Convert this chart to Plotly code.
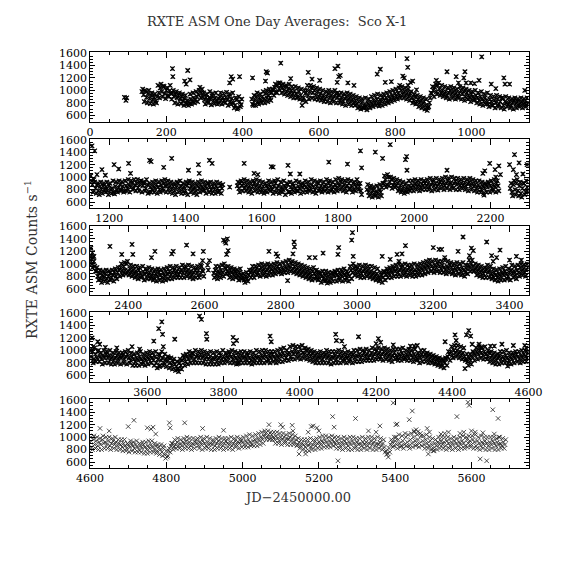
import plotly.graph_objects as go

# ---------------- DATA ----------------
# Band values: one value every 4 days from pN_start (a) and from pN_start+2 (b); None = no data
p1_start = 136
p1_vals = [980, 930, 1000, 890, 950, 870, 920, 850, 890, 830,
           900, 960, 1040, 980, 1070, 950, 1000, 920, 990, 950,
           960, 900, 940, 880, 920, 860, 900, 830, 870, 800,
           840, 790, 860, 820, 880, 850, 900, 940, 1050, 960,
           900, 850, 890, 830, 880, 860, 910, 840, 880, 820,
           870, 900, 840, 880, 830, 890, 850, 900, 820, 870,
           800, 760, 850, 720, 820, 770, None, None, None, None,
           None, None, 860, 760, 840, 900, 820, 880, 840, 900,
           860, 950, 880, 920, 880, 960, 1000, 1050, 980, 1080,
           1020, 1080, 1040, 1000, 1060, 980, 1030, 960, 1000, 940,
           990, 950, 900, 980, 920, 760, 880, 950, 1000, 920,
           980, 1040, 960, 1000, 920, 980, 900, 950, 880, 920,
           860, 900, 950, 880, 920, 860, 900, 950, 880, 920,
           850, 890, 830, 870, 900, 840, 880, 820, 860, 800,
           840, 780, 820, 740, 800, 720, 780, 740, 800, 760,
           820, 780, 840, 800, 860, 790, 850, 820, 880, 840,
           880, 830, 900, 860, 920, 880, 950, 900, 960, 920,
           1000, 940, 980, 920, 960, 900, 950, 880, 840, 900,
           820, 860, 800, 840, 780, 820, 760, 680, 740, 880,
           950, 1000, 1050, 980, 1080, 1020, 960, 1000, 940, 980,
           920, 960, 1000, 940, 980, 920, 960, 900, 950, 1000,
           940, 980, 900, 960, 920, 880, 940, 900, 860, 920,
           880, 840, 900, 860, 820, 880, 840, 780, 860, 820,
           760, 840, 800, 860, 780, 820, 880, 760, 820, 800,
           780, 820, 760, 800, 840, 780, 820, 760, 800, 820,
           780, 800, 760, 800]
p1_vals_b = [1020, 820, 980, 800, 1000, 790, 960, 780, 940, 800,
             1080, 880, 1100, 900, 1060, 870, 1040, 900, 1080, 860,
             1000, 800, 980, 780, 960, 790, 940, 760, 920, 780,
             760, 940, 780, 960, 800, 980, 820, 1000, 880, 1020,
             960, 780, 940, 800, 980, 770, 950, 790, 960, 780,
             800, 960, 780, 950, 800, 970, 760, 940, 780, 960,
             720, 880, 700, 900, 740, 860, None, None, None, None,
             None, None, 780, 920, 760, 960, 780, 940, 800, 980,
             800, 1000, 820, 980, 840, 1020, 920, 1100, 960, 1120,
             1120, 960, 1100, 940, 1080, 920, 1100, 900, 1060, 880,
             1060, 880, 1040, 860, 1020, 840, 1000, 820, 1080, 860,
             1080, 880, 1060, 860, 1040, 850, 1020, 840, 1000, 820,
             980, 820, 1000, 800, 980, 820, 1000, 800, 960, 800,
             960, 780, 940, 760, 960, 780, 940, 760, 920, 760,
             900, 720, 880, 700, 860, 720, 880, 690, 860, 720,
             900, 740, 920, 760, 940, 750, 920, 760, 940, 780,
             960, 800, 980, 820, 1000, 840, 1020, 860, 1040, 880,
             1060, 880, 1040, 860, 1020, 840, 980, 800, 940, 780,
             920, 740, 900, 720, 880, 700, 860, 720, 800, 960,
             1060, 900, 1100, 940, 1120, 920, 1080, 900, 1060, 880,
             1040, 860, 1060, 880, 1040, 860, 1020, 880, 1060, 860,
             1040, 840, 1020, 860, 1000, 820, 980, 840, 1000, 800,
             960, 780, 980, 760, 940, 780, 960, 740, 920, 760,
             900, 720, 920, 740, 900, 720, 880, 700, 900, 740,
             880, 720, 860, 700, 880, 720, 860, 740, 880, 720,
             860, 740, 880]
p1_out_days = [90, 94, 96, 216, 217, 248, 252, 256, 262, 366, 370, 374, 392, 426,
               460, 462, 465, 470, 500, 526, 572, 582, 602, 642, 650, 652, 656, 648,
               676, 692, 753, 761, 774, 790, 812, 820, 824, 831, 833, 840, 846, 834,
               856, 908, 936, 960, 980, 983, 966, 986, 998, 1008, 1020, 1027, 1052,
               1064, 1085, 1088, 1100, 1140]
p1_out_vals = [890, 840, 880, 1350, 1220, 1150, 1100, 1320, 1170, 1120, 1220, 1180, 1220, 1200,
               1150, 1300, 1280, 1020, 1440, 1190, 1290, 1180, 1160, 1350, 1390, 1220, 1240, 1130,
               1120, 1080, 1260, 1340, 1130, 1140, 1080, 1230, 1200, 1510, 1370, 1130, 1150, 1080,
               1010, 1160, 1300, 1220, 1200, 1300, 1120, 1120, 1120, 1110, 1160, 1540, 1100,
               1030, 1200, 1100, 1100, 1000]

p2_start = 1152
p2_vals = [1020, 880, 960, 820, 870, 780, 850, 800, 860, 790,
           840, 780, 860, 800, 820, 760, 850, 790, 830, 880,
           800, 850, 780, 860, 820, 880, 840, 900, 820, 870,
           900, 830, 880, 940, 860, 900, 820, 880, 760, 840,
           800, 860, 820, 880, 840, 800, 870, 820, 900, 850,
           880, 820, 860, 800, 850, 780, 840, 900, 820, 860,
           800, 840, 780, 860, 900, 820, 860, 800, 840, 780,
           860, 820, 880, 840, 800, 860, 820, 900, 840, 790,
           850, 800, 860, 820, 780, 860, 820, None, None, None,
           None, 840, None, None, None, None, 860, 820, 900, 860,
           900, 830, 880, 820, 860, 800, 850, 900, 840, 880,
           820, 860, 800, 850, 780, 860, 820, 880, 840, 800,
           850, 900, 820, 860, 780, 840, 800, 860, 820, 880,
           760, 840, 800, 860, 820, 780, 850, 810, 870, 830,
           880, 840, 800, 860, 820, 880, 840, 790, 850, 900,
           820, 860, 800, 850, 880, 820, 900, 860, 800, 840,
           880, 830, 900, 860, 920, 840, 880, 820, 860, 900,
           820, 860, 800, 880, 840, 900, 850, 780, None, None,
           None, 800, 760, 820, 740, 790, 720, 770, 740, 800,
           760, 830, 900, 960, 880, 1000, 920, 960, 870, 920,
           860, 900, 820, 870, 800, 850, 780, 840, 800, 860,
           820, 870, 840, 900, 850, 880, 830, 890, 860, 900,
           860, 900, 840, 880, 920, 860, 900, 850, 890, 920,
           880, 920, 860, 900, 940, 880, 910, 860, 900, 930,
           880, 920, 860, 900, 870, 910, 850, 890, 920, 860,
           900, 850, 880, 820, 870, 840, 800, 860, 820, 880,
           840, 900, 860, 820, 880, 840, 900, 860, None, None,
           None, None, None, None, None, 820, 760, 880, 800, 900,
           780, 860, 740, 820, 900, 760, 840]
p2_vals_b = [940, 760, 920, 740, 900, 720, 920, 740, 900, 760,
             920, 720, 900, 740, 940, 730, 920, 760, 940, 780,
             920, 760, 940, 780, 960, 760, 940, 800, 960, 780,
             960, 780, 940, 760, 920, 780, 960, 740, 900, 760,
             920, 760, 940, 740, 920, 760, 940, 780, 960, 760,
             940, 760, 920, 740, 900, 720, 920, 760, 940, 740,
             900, 740, 920, 720, 940, 760, 920, 740, 900, 720,
             920, 760, 940, 780, 920, 740, 900, 760, 920, 740,
             900, 740, 920, 760, 900, 740, 880, None, None, None,
             None, None, None, None, None, None, 920, 760, 940, 780,
             960, 780, 940, 760, 920, 740, 940, 780, 960, 760,
             940, 760, 920, 740, 900, 760, 940, 780, 920, 740,
             940, 760, 960, 740, 920, 760, 940, 720, 900, 760,
             920, 740, 900, 760, 940, 780, 920, 740, 900, 760,
             940, 760, 920, 780, 960, 760, 940, 740, 920, 780,
             940, 760, 920, 780, 960, 760, 940, 780, 920, 760,
             960, 780, 980, 800, 960, 780, 940, 760, 960, 800,
             940, 760, 920, 780, 960, 800, 900, 720, None, None,
             None, 880, 700, 860, 680, 840, 700, 860, 680, 880,
             700, 900, 1020, 840, 1040, 860, 1000, 820, 980, 840,
             960, 780, 940, 760, 920, 740, 900, 760, 940, 780,
             940, 780, 960, 800, 940, 780, 960, 800, 940, 800,
             960, 800, 980, 780, 960, 800, 980, 790, 960, 820,
             980, 800, 1000, 820, 980, 800, 1000, 820, 980, 800,
             980, 800, 960, 820, 980, 800, 960, 780, 980, 800,
             960, 780, 940, 760, 940, 760, 920, 740, 900, 760,
             920, 760, 940, 780, 960, 760, 940, 780, None, None,
             None, None, None, None, None, 900, 700, 940, 720, 960,
             700, 920, 680, 900, 720, 940, 760]
p2_out_days = [1155, 1162, 1168, 1181, 1190, 1213, 1225, 1251, 1256, 1306, 1310, 1343, 1364,
               1408, 1434, 1436, 1463, 1470, 1554, 1580, 1590, 1625, 1630, 1669, 1675, 1700,
               1776, 1825, 1859, 1862, 1898, 1917, 1937, 1977, 1980, 1981, 2086, 2180, 2185,
               2198, 2212, 2214, 2183, 2222, 2226, 2250, 2263, 2260, 2268, 2275, 2285, 2296]
p2_out_vals = [1500, 1420, 1040, 1120, 1030, 1200, 1130, 1220, 1060, 1270, 1250, 1155, 1300,
               1110, 1200, 1060, 1270, 1220, 1220, 1060, 1040, 1170, 1160, 1190, 1050, 1050,
               1240, 1210, 1420, 1150, 1400, 1300, 1520, 1280, 1330, 1110, 1110, 1060, 1100,
               1220, 1120, 1000, 710, 1180, 1040, 1200, 1360, 1120, 1040, 1230, 1050, 1200]

p3_start = 2300
p3_vals = [1060, 1000, 1100, 960, 880, 800, 850, 760, 820, 780,
           840, 760, 800, 850, 780, 820, 870, 800, 860, 900,
           940, 880, 960, 900, 1000, 880, 920, 860, 900, 840,
           880, 820, 900, 850, 800, 870, 830, 880, 820, 860,
           800, 850, 780, 840, 800, 870, 820, 780, 850, 800,
           870, 830, 880, 820, 860, 900, 840, 880, 820, 870,
           900, 850, 920, 860, 900, 840, 880, 820, 860, 900,
           850, 900, 830, 960, 880, None, None, 980, None, None,
           None, 850, 900, 820, 880, 840, 900, 860, 1000, 920,
           880, 840, 900, 860, 820, 880, 840, 800, 860, 820,
           780, 740, 800, 760, 820, 860, 900, 840, 880, 920,
           860, 900, 940, 880, 920, 860, 900, 950, 880, 920,
           880, 940, 900, 960, 920, 880, 940, 900, 960, 920,
           980, 940, 1000, 920, 960, 900, 940, 880, 920, 860,
           900, 840, 880, 820, 860, 800, 880, 840, 800, 860,
           780, 840, 800, 760, 820, 740, 800, 720, 780, 840,
           800, 860, 820, 780, 840, 800, 860, 820, 780, 840,
           800, 900, 860, 940, 880, 920, 860, 900, 840, 880,
           920, 860, 900, 840, 880, 820, 860, 800, 840, 780,
           760, 820, 780, 860, 820, 880, 840, 900, 860, 920,
           880, 920, 860, 900, 940, 880, 920, 860, 900, 940,
           880, 920, 860, 900, 860, 920, 880, 940, 900, 960,
           920, 980, 940, 1000, 960, 920, 980, 940, 1000, 960,
           920, 980, 940, 900, 960, 920, 980, 940, 880, 940,
           900, 960, 920, 880, 940, 900, 860, 920, 980, 940,
           1000, 960, 900, 940, 880, 920, 860, 900, 840, 880,
           920, 860, 900, 840, 800, 860, 820, 780, 840, 800,
           860, 820, 880, 840, 800, 860, 900, 840, 880, 820,
           900, 860, 940, 880, 920, 860, 900, 940]
p3_vals_b = [1120, 940, 1040, 880, 940, 740, 900, 700, 880, 720,
             900, 700, 880, 740, 900, 720, 920, 760, 940, 800,
             1000, 820, 1020, 840, 1040, 820, 980, 800, 960, 780,
             960, 760, 940, 780, 960, 740, 920, 760, 940, 760,
             920, 740, 900, 720, 920, 740, 900, 720, 920, 740,
             940, 760, 960, 760, 940, 780, 960, 780, 940, 780,
             980, 780, 960, 800, 980, 780, 960, 760, 940, 780,
             960, 780, 980, 900, 800, None, None, 900, None, None,
             None, 780, 960, 760, 960, 780, 980, 800, 940, 840,
             960, 780, 940, 760, 920, 780, 900, 740, 920, 760,
             840, 700, 860, 720, 900, 780, 960, 780, 960, 820,
             980, 800, 1000, 820, 980, 800, 1000, 820, 980, 820,
             1000, 840, 1020, 860, 1000, 840, 1020, 860, 1040, 860,
             1060, 880, 1040, 860, 1020, 840, 1000, 820, 980, 800,
             960, 780, 940, 760, 920, 740, 940, 760, 900, 740,
             860, 700, 880, 720, 880, 690, 860, 700, 860, 720,
             880, 720, 900, 740, 900, 720, 920, 740, 880, 720,
             960, 760, 1000, 820, 960, 800, 980, 780, 960, 780,
             980, 800, 960, 780, 960, 760, 940, 740, 920, 720,
             860, 700, 880, 740, 920, 780, 940, 780, 960, 800,
             980, 800, 1000, 800, 980, 820, 1000, 800, 980, 820,
             980, 800, 1000, 800, 980, 820, 1000, 820, 1020, 840,
             1040, 860, 1060, 880, 1040, 860, 1060, 880, 1040, 860,
             1040, 860, 1060, 840, 1040, 860, 1020, 840, 1000, 820,
             1020, 840, 1000, 820, 1020, 800, 980, 840, 1060, 880,
             1060, 880, 1000, 820, 980, 800, 960, 780, 940, 780,
             980, 780, 960, 760, 920, 740, 900, 720, 920, 740,
             940, 740, 960, 760, 920, 740, 980, 780, 960, 760,
             980, 800, 1000, 820, 980, 800, 1000]
p3_out_days = [2302, 2306, 2310, 2352, 2383, 2410, 2412, 2461, 2470, 2514, 2518, 2553, 2570,
               2597, 2595, 2613, 2650, 2654, 2656, 2660, 2662, 2658, 2769, 2788, 2792, 2818,
               2832, 2835, 2836, 2875, 2890, 2911, 2950, 2952, 2988, 2986, 2990, 3066, 3087,
               3105, 3118, 3127, 3110, 3200, 3215, 3222, 3230, 3265, 3278, 3295, 3300, 3305,
               3340, 3353, 3357, 3366, 3375, 3400, 3418, 3431]
p3_out_vals = [1250, 1180, 1120, 1280, 1150, 1310, 1150, 1100, 1200, 1160, 1200, 1300, 1160,
               1200, 1050, 1050, 1380, 1360, 1330, 1400, 1210, 1150, 1200, 1160, 1120, 730,
               1160, 1350, 1270, 1100, 1100, 1170, 1150, 1260, 1500, 1380, 1120, 1120, 1070,
               1150, 1160, 1290, 1040, 1260, 1230, 1230, 1100, 1200, 1430, 1130, 1250, 1210,
               1350, 1130, 1040, 1100, 1220, 1060, 1120, 1060]

p4_start = 3452
p4_vals = [900, 980, 860, 940, 880, 1000, 900, 860, 920, 880,
           940, 880, 920, 860, 900, 840, 880, 920, 860, 900,
           880, 920, 860, 900, 940, 880, 840, 900, 860, 820,
           880, 840, 900, 860, 820, 880, 840, 900, 860, 920,
           880, 840, 900, 800, 860, 920, 840, 880, 800, 860,
           820, 880, 800, 760, 820, 780, 740, 700, 800, 760,
           840, 880, 820, 900, 860, 920, 880, 940, 860, 900,
           920, 880, 940, 880, 920, 860, 900, 860, 900, 840,
           880, 860, 900, 840, 880, 920, 860, 900, 860, 920,
           880, 940, 900, 860, 920, 880, 840, 900, 860, 920,
           880, 900, 860, 920, 880, 840, 900, 860, 920, 880,
           900, 860, 920, 880, 940, 900, 860, 920, 880, 940,
           900, 860, 920, 880, 940, 900, 960, 920, 880, 940,
           960, 900, 980, 940, 1000, 940, 980, 920, 1000, 960,
           940, 1000, 920, 960, 900, 950, 880, 920, 860, 900,
           880, 920, 860, 900, 940, 880, 920, 860, 900, 880,
           920, 860, 900, 940, 880, 920, 860, 900, 880, 920,
           860, 900, 940, 880, 920, 900, 940, 880, 920, 960,
           900, 940, 880, 920, 960, 900, 940, 980, 920, 960,
           900, 940, 980, 920, 960, 900, 940, 880, 920, 960,
           920, 880, 940, 900, 960, 920, 880, 940, 900, 960,
           920, 880, 940, 900, 860, 920, 880, 940, 900, 940,
           880, 920, 860, 900, 840, 880, 820, 860, 800, 840,
           780, 840, 800, 860, 900, 940, 980, 920, 1000, 960,
           1000, 940, 980, 920, 960, 900, 860, 820, 880, 840,
           900, 960, 920, 980, 940, 1000, 960, 920, 980, 940,
           900, 960, 880, 920, 860, 900, 840, 880, 920, 860,
           900, 860, 920, 880, 840, 900, 860, 920, 880, 940,
           900, 860, 920, 880, 940, 900, 880]
p4_vals_b = [1000, 800, 1040, 820, 980, 820, 960, 780, 1000, 800,
             980, 800, 1000, 780, 960, 780, 980, 800, 960, 780,
             960, 800, 980, 780, 1000, 800, 960, 760, 940, 760,
             960, 760, 980, 780, 940, 760, 960, 780, 980, 800,
             960, 760, 980, 720, 940, 760, 980, 760, 940, 740,
             900, 720, 880, 700, 860, 680, 820, 660, 860, 700,
             920, 760, 940, 780, 980, 800, 960, 800, 1000, 800,
             980, 800, 1000, 800, 980, 780, 960, 780, 980, 780,
             960, 780, 980, 780, 960, 800, 1000, 800, 960, 820,
             980, 800, 1000, 800, 980, 780, 960, 800, 980, 800,
             980, 800, 960, 800, 980, 780, 960, 800, 1000, 800,
             980, 800, 1000, 800, 1000, 820, 980, 800, 980, 820,
             980, 800, 1000, 820, 1020, 820, 1040, 840, 1000, 840,
             1060, 860, 1080, 860, 1060, 880, 1060, 860, 1080, 880,
             1040, 860, 1020, 840, 1000, 820, 980, 800, 960, 800,
             980, 800, 960, 800, 1000, 800, 980, 780, 980, 800,
             980, 800, 1000, 800, 980, 820, 960, 800, 980, 820,
             960, 800, 1000, 820, 1000, 820, 1020, 820, 1000, 840,
             1020, 840, 1000, 840, 1040, 840, 1020, 860, 1040, 860,
             1020, 840, 1040, 860, 1020, 840, 1000, 820, 1020, 860,
             1020, 840, 1020, 840, 1040, 860, 1000, 840, 1020, 840,
             1000, 820, 1020, 840, 960, 800, 1000, 820, 1000, 820,
             960, 800, 940, 800, 920, 780, 900, 760, 880, 740,
             860, 720, 880, 760, 980, 840, 1060, 880, 1080, 900,
             1080, 880, 1060, 860, 1040, 840, 940, 760, 940, 780,
             980, 840, 1040, 860, 1060, 880, 1040, 860, 1060, 860,
             1000, 820, 980, 800, 960, 780, 940, 780, 980, 800,
             980, 800, 1000, 800, 960, 780, 960, 800, 980, 820,
             980, 800, 1000, 820, 1000, 820, 960]
p4_out_days = [3455, 3458, 3470, 3475, 3490, 3520, 3560, 3580, 3617, 3630, 3638, 3640, 3642,
               3632, 3672, 3682, 3737, 3742, 3755, 3756, 3825, 3826, 3834, 3838, 3922, 3925,
               4094, 4096, 4110, 4117, 4154, 4206, 4200, 4212, 4245, 4290, 4300, 4308, 4381,
               4407, 4410, 4437, 4443, 4448, 4433, 4452, 4470, 4475, 4500, 4510, 4530, 4545,
               4560, 4590, 4594]
p4_out_vals = [1200, 1060, 1140, 1100, 1050, 1040, 1060, 1020, 1150, 1350, 1460, 1260, 1060,
               740, 1180, 710, 1550, 1500, 1270, 1180, 1210, 1110, 1160, 790, 1230, 1140,
               1260, 1160, 1150, 1060, 1220, 1190, 1110, 1130, 1090, 1070, 1070, 1080, 1140,
               1250, 1160, 1250, 1320, 1230, 710, 1100, 1100, 1050, 1070, 1070, 1100, 750,
               1080, 1080, 1040]

p5_start = 4600
p5_vals = [920, 840, 960, 880, 940, 860, 920, 880, 960, 900,
           920, 880, 940, 860, 900, 940, 880, 920, 860, 900,
           880, 840, 900, 860, 820, 880, 840, 900, 860, 820,
           880, 840, 800, 860, 820, 880, 840, 800, 860, 820,
           880, 840, 800, 860, 780, 840, 800, 760, 820, 720,
           780, 700, 820, 860, 900, 840, 880, 920, 860, 900,
           860, 920, 880, 940, 880, 920, 860, 900, 880, 920,
           900, 860, 920, 880, 940, 900, 860, 920, 880, 900,
           880, 920, 860, 900, 940, 880, 920, 860, 900, 940,
           900, 880, 920, 860, 900, 940, 880, 920, 900, 940,
           920, 880, 940, 900, 960, 920, 880, 940, 960, 920,
           980, 940, 1000, 960, 1020, 1060, 1000, 1040, 980, 1040,
           1000, 960, 1020, 980, 940, 1000, 960, 1000, 940, 980,
           960, 1000, 940, 980, 920, 960, 880, 920, 860, 900,
           880, 840, 900, 860, 900, 840, 880, 920, 860, 900,
           920, 880, 940, 900, 960, 920, 880, 940, 900, 960,
           920, 880, 940, 900, 860, 920, 880, 940, 900, 860,
           920, 880, 940, 900, 860, 920, 880, 900, 860, 920,
           880, 920, 860, 900, 940, 880, 920, 860, 900, 880,
           920, 860, 900, 840, 780, 740, 820, 880, 920, 860,
           940, 880, 960, 900, 860, 940, 880, 1000, 920, 860,
           960, 900, 1000, 940, 880, 960, 900, 1020, 940, 880,
           960, 900, 860, 940, 880, 820, 900, 860, 920, 880,
           940, 880, 920, 860, 940, 900, 860, 920, 880, 940,
           900, 860, 920, 880, 940, 900, 860, 960, 900, 940,
           880, 960, 920, 860, 940, 900, 860, 920, 880, 940,
           900, 860, 920, 880, 940, 900, 860, 920, 880, 900,
           860, 920, 880]
p5_vals_b = [1000, 800, 1020, 820, 1000, 800, 980, 800, 1020, 820,
             1000, 820, 1000, 800, 980, 820, 1000, 800, 960, 800,
             960, 780, 960, 780, 900, 760, 940, 780, 920, 760,
             940, 760, 900, 760, 920, 740, 920, 740, 940, 760,
             940, 760, 900, 740, 880, 720, 880, 700, 860, 660,
             680, 780, 760, 900, 800, 960, 820, 980, 820, 960,
             800, 980, 820, 1000, 820, 980, 800, 980, 820, 960,
             980, 820, 1000, 800, 980, 820, 1000, 820, 980, 800,
             960, 800, 980, 820, 1000, 820, 980, 800, 980, 820,
             980, 820, 1000, 800, 980, 840, 1000, 820, 980, 840,
             1000, 840, 1020, 840, 1040, 860, 1020, 860, 1040, 860,
             1060, 880, 1080, 900, 1100, 960, 1100, 960, 1080, 960,
             1080, 900, 1080, 900, 1060, 880, 1060, 900, 1040, 880,
             1060, 880, 1040, 880, 1020, 860, 980, 820, 960, 800,
             960, 780, 960, 780, 980, 800, 960, 800, 980, 820,
             1000, 820, 1020, 840, 1020, 840, 1000, 840, 1020, 860,
             1000, 820, 1000, 820, 980, 800, 1000, 820, 980, 800,
             1000, 800, 1000, 820, 980, 800, 980, 800, 1000, 820,
             980, 800, 1000, 820, 1000, 800, 980, 800, 1000, 820,
             980, 800, 960, 760, 720, 680, 760, 960, 840, 1000,
             1000, 820, 1040, 840, 1020, 820, 1060, 860, 1040, 820,
             1060, 840, 1080, 860, 1040, 840, 1060, 860, 1020, 820,
             1040, 820, 1000, 800, 980, 780, 960, 800, 1000, 820,
             1000, 820, 1000, 800, 1000, 820, 980, 800, 1000, 820,
             980, 800, 1000, 820, 1020, 820, 1000, 840, 1020, 840,
             1020, 820, 1040, 820, 1000, 800, 1020, 820, 1000, 800,
             1000, 800, 1000, 820, 1000, 800, 980, 800, 1000, 820,
             980, 820, 960]
p5_out_days = [4626, 4650, 4700, 4715, 4750, 4760, 4765, 4772, 4808, 4810, 4848, 4895, 4950,
               5069, 5100, 5105, 5130, 5132, 5148, 5165, 5172, 5180, 5185, 5195, 5200, 5236,
               5240, 5250, 5296, 5330, 5350, 5360, 5395, 5402, 5405, 5437, 5445, 5450, 5455,
               5460, 5484, 5487, 5490, 5500, 5520, 5530, 5540, 5562, 5570, 5580, 5591, 5594,
               5600, 5610, 5623, 5640, 5630, 5656, 5670, 5660, 5672]
p5_out_vals = [1140, 1100, 1170, 1270, 1150, 1130, 1160, 1050, 1230, 1150, 1230, 1140, 1110,
               1200, 1200, 1160, 1190, 1100, 730, 730, 1080, 1170, 1180, 1150, 1100, 1330,
               1160, 620, 1300, 1100, 1080, 1180, 1550, 1200, 1210, 1280, 1420, 1100, 1120,
               1090, 1140, 730, 1080, 780, 1050, 1060, 1080, 1330, 1060, 1080, 1560, 1510,
               1100, 1080, 650, 620, 1070, 1440, 1300, 1050, 1000]

panel_starts = [0, 1150, 2300, 3450, 4600]
panel_span = 1150
y_range = [500, 1610]
y_ticks = [600, 800, 1000, 1200, 1400, 1600]
err_size = 22

TITLE = "RXTE ASM One Day Averages:\u00a0\u00a0Sco X-1"
YLABEL = "RXTE ASM Counts s<sup>\u22121</sup>"
XLABEL = "JD\u22122450000.00"

panels = [
    (p1_start, p1_vals, p1_vals_b, p1_out_days, p1_out_vals),
    (p2_start, p2_vals, p2_vals_b, p2_out_days, p2_out_vals),
    (p3_start, p3_vals, p3_vals_b, p3_out_days, p3_out_vals),
    (p4_start, p4_vals, p4_vals_b, p4_out_days, p4_out_vals),
    (p5_start, p5_vals, p5_vals_b, p5_out_days, p5_out_vals),
]

# ---------------- FIGURE ----------------
W = H = 574
FONT = "DejaVu Serif"
left_px, right_px = 80, 541
top0, step, height = 47, 87.75, 70

fig = go.Figure()
layout = dict(
    width=W, height=H, margin=dict(l=0, r=0, t=0, b=0),
    paper_bgcolor="white", plot_bgcolor="white", showlegend=False,
    font=dict(family=FONT, size=11, color="black"),
)

for k, (start, va, vb, od, ov) in enumerate(panels):
    xs, ys = [], []
    for off, vals in ((0, va), (2, vb)):
        for i, v in enumerate(vals):
            if v is not None:
                xs.append(start + off + 4 * i)
                ys.append(v)
    xs += list(od)
    ys += list(ov)
    ax = "" if k == 0 else str(k + 1)
    if k < 4:
        err = dict(type="constant", value=err_size, thickness=0.8, width=1.6, color="black")
        mk = dict(symbol="x-thin", size=4.5, line=dict(width=1.1, color="black"), color="black")
    else:
        err = dict(visible=False)
        mk = dict(symbol="x-thin", size=4.5, line=dict(width=0.8, color="#222"), color="black")
    fig.add_trace(go.Scatter(x=xs, y=ys, mode="markers", marker=mk, error_y=err,
                             xaxis="x" + ax, yaxis="y" + ax, hoverinfo="skip"))
    top = top0 + step * k
    bot = top + height
    x0 = panel_starts[k]
    layout["xaxis" + ax] = dict(
        domain=[left_px / W, right_px / W], anchor="y" + ax,
        range=[x0, x0 + panel_span], tick0=0, dtick=200,
        ticks="inside", ticklen=6, tickwidth=1, tickcolor="black",
        minor=dict(dtick=50, tick0=0, ticks="inside", ticklen=3, tickcolor="black"),
        showline=True, linecolor="black", linewidth=1, mirror="allticks",
        showgrid=False, zeroline=False,
        tickfont=dict(family=FONT, size=11, color="black"),
    )
    layout["yaxis" + ax] = dict(
        domain=[1 - bot / H, 1 - top / H], anchor="x" + ax,
        range=y_range, tickvals=y_ticks,
        ticks="inside", ticklen=5, tickwidth=1, tickcolor="black",
        minor=dict(dtick=50, tick0=0, ticks="inside", ticklen=3, tickcolor="black"),
        showline=True, linecolor="black", linewidth=1, mirror="allticks",
        showgrid=False, zeroline=False,
        tickfont=dict(family=FONT, size=11, color="black"),
    )

layout["annotations"] = [
    dict(text=TITLE, x=277 / W, y=1 - 16 / H, xref="paper", yref="paper",
         showarrow=False, font=dict(family=FONT, size=13, color="#333"),
         xanchor="center", yanchor="middle"),
    dict(text=YLABEL, x=18 / W, y=1 - 257 / H, xref="paper", yref="paper",
         showarrow=False, textangle=-90, font=dict(family=FONT, size=14, color="#333"),
         xanchor="center", yanchor="middle"),
    dict(text=XLABEL, x=298 / W, y=1 - 498 / H, xref="paper", yref="paper",
         showarrow=False, font=dict(family=FONT, size=13, color="#333"),
         xanchor="center", yanchor="middle"),
]
fig.update_layout(**layout)
fig.write_html("out.html", config={"displayModeBar": False},
               post_script="document.body.style.margin='0';document.body.style.overflow='hidden';")
